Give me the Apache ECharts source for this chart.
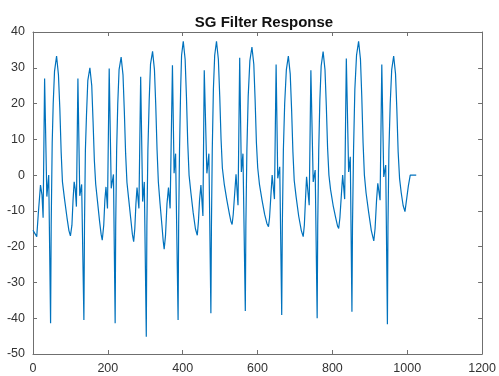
<!DOCTYPE html>
<html>
<head>
<meta charset="utf-8">
<script src="https://cdn.jsdelivr.net/npm/echarts@6/dist/echarts.min.js"></script>
<style>
html,body{margin:0;padding:0;background:#fff;}
#chart{width:499px;height:376px;}
</style>
</head>
<body>
<div id="chart"></div>
<script>
// Sample index and filtered amplitude
var sampleIndex = [
0,5,10,14,20,24,27,31,37,42,47,
48.6,51.3,54,57.5,63,68,71.7,75.2,78.7,84,91,96,100,104,107,110,113,116,120,125,130,136,
137.6,140,143,146.5,152,157,160.5,164,167.5,172,178,182,185,189,192,195,199,203.6,209,215,219.5,
221,223.5,226.5,230,235.5,240.5,244,247.5,251,255.5,261,265.5,269,272,275,278,283,287.7,293,297.4,302.7,
304.3,307,310.5,314,319.5,324.5,328,331.5,335,339.5,344.5,348,350.5,354,358,362,366.4,372.6,377,381,387.7,
389.2,391.5,394.5,397,401.5,406.5,410,413.5,417,422,428,434,439,442,445,448.7,454,457.6,464.6,470,475.3,
476.8,479,482,485.5,490.3,495.3,499,502.5,506,511,518,525,529,532,535,539,542.5,547.8,552.3,556.7,561,567.3,
568.8,571.5,575,579.5,585,590,593.5,597,600.5,605,612,619,625,629.2,632,635.5,639,645.2,649.6,654,659.3,664.6,
666.2,669,672.5,677,682.3,687.3,691,694.5,698,703,710,717,722,725,728,731,738,742.5,748.7,754,759.3,
760.8,763.5,766.5,770,775.2,780.2,783.7,787.2,790.7,795,802,809,814,816.8,820,824,827.4,832.8,837.2,843.4,847.8,852.2,
853.7,856.5,860,864.5,870,875,878.5,882,885.5,890,897,904,910.6,914,918,921.3,927.4,932,937.2,942.5,947,
948.5,951,954.5,958.5,963.7,968.7,972.2,975.7,979.5,984,989,993.9,998,1003,1008,1024
];
var amplitude = [
-15.4,-15.9,-17.2,-11,-2.8,-5.5,-11.9,27,-6,0,-41.4,
-14,9,20,29,33.3,28,18.6,6.5,-1.9,-6.5,-12,-15.5,-17,-14,-7,-1.9,-4,-8.8,27,-5.8,-2.6,-40.5,
-14,7,17,26.5,30,25,15,4,-2.5,-7,-13,-16.5,-18.2,-14,-7,-3.3,-9.3,29.8,-3.7,0.2,-41.4,
-14,7,20,29.5,33,28,18,6,-2,-6.5,-12,-16.5,-18.6,-15,-8,-3.5,-9.3,27.5,-7.4,-1.9,-45.2,
-14,7,21,31,34.6,29.5,19.5,7,-2,-8,-14,-18.5,-20.7,-17,-8,-3.5,-9.3,30.7,0.5,6,-40.5,
-14,7,24,33.5,37.4,32.4,22,9,0,-5,-10.5,-15,-16.8,-13,-7,-2.8,-11.4,29.3,0.5,6,-38.6,
-14,7,24,33.5,37.4,32.4,22,10,2,-2.5,-7,-11,-13,-13.8,-11,-5,0.2,-8.4,32.8,0.9,6,-38,
-14,7,22,32,35.8,31,21,9,2,-2.5,-7,-11,-13.5,-14.4,-12,-6,0,-6.7,30.9,-0.9,2.3,-39.1,
-14,7,20,29.5,33.3,28.3,18.3,6.5,-1.5,-6,-11.5,-15.5,-17.2,-14,-7,-0.5,-8.4,29.3,-1.9,1.4,-40,
-14,7,21,30.5,34.5,29.5,19.5,7.5,0,-4,-8.5,-12,-14.3,-14.9,-12,-5.5,0,-6.7,32.6,0.9,5.1,-38.2,
-14,7,24,33.5,37.4,32.4,22,9,0,-5,-10.5,-15.5,-18.4,-15,-7,-2.3,-7,30.9,-0.5,2.8,-41.7,
-14,7,20,29.5,33.3,28.3,18.3,6.5,-1,-5,-8.5,-10.2,-7,-3,0,0
];
var chartTitle = 'SG Filter Response';
var xTicks = [0, 1200, 200];   // min, max, step
var yTicks = [-50, 40, 10];    // min, max, step

var points = sampleIndex.map(function (t, i) { return [t, amplitude[i]]; });

var font = "'Liberation Sans', Arial, Helvetica, sans-serif";
var axisColor = '#6f6f6f';
function makeAxis(range, pos, showLabel) {
  return {
    type: 'value',
    position: pos,
    min: range[0], max: range[1], interval: range[2],
    splitLine: {show: false},
    axisLine: {show: true, onZero: false, lineStyle: {color: axisColor, width: 1}},
    axisTick: {show: true, inside: true, length: 4, lineStyle: {color: axisColor}},
    axisLabel: {
      show: showLabel, color: '#333', fontSize: 12.5, fontFamily: font, margin: 8,
      formatter: function (v) { return String(v); }
    }
  };
}

var chart = echarts.init(document.getElementById('chart'), null, {renderer: 'canvas'});
chart.setOption({
  animation: false,
  backgroundColor: '#fff',
  title: {
    text: chartTitle,
    left: 259, top: 10, textAlign: 'center',
    textStyle: {fontSize: 15, fontWeight: 'bold', color: '#111', fontFamily: font}
  },
  grid: {left: 33, right: 14, top: 32, bottom: 22, containLabel: false},
  xAxis: [makeAxis(xTicks, 'bottom', true), makeAxis(xTicks, 'top', false)],
  yAxis: [makeAxis(yTicks, 'left', true), makeAxis(yTicks, 'right', false)],
  series: [{
    type: 'line',
    data: points,
    showSymbol: false,
    lineStyle: {color: '#0072BD', width: 1.2},
    xAxisIndex: 0, yAxisIndex: 0
  }]
});
</script>
</body>
</html>
